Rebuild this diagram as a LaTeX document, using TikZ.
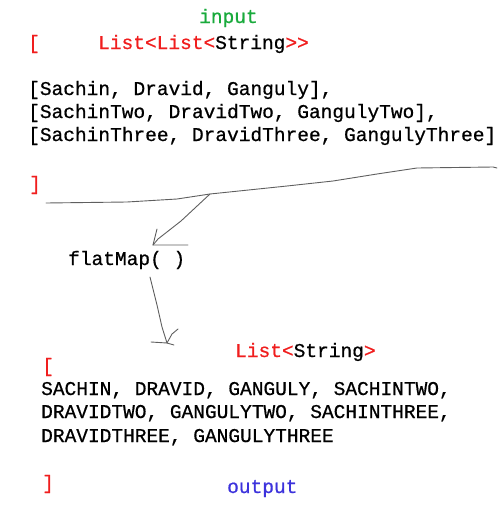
\documentclass[tikz,border=0pt]{standalone}
\usepackage{fontspec}
\setmonofont[FakeBold=0.7]{Liberation Mono}
\definecolor{kwred}{RGB}{240,30,30}
\definecolor{ingreen}{RGB}{25,170,60}
\definecolor{outblue}{RGB}{60,50,220}
\definecolor{pen}{RGB}{95,95,95}
\tikzset{
  code/.style={anchor=base west, inner sep=0pt, font=\fontsize{19.5}{23}\ttfamily},
  stroke/.style={draw=pen, line width=0.9pt, line join=round, line cap=round}
}

\begin{document}
\begin{tikzpicture}[x=1pt, y=-1pt]
        \useasboundingbox (0,0) rectangle (502,512);
        
        \node[code, text=ingreen] (in) at (199,23) {input};
        \node[code, text=kwred] (ob) at (28,49) {[};
        \node[code] (intype) at (98,49) {\textcolor{kwred}{List<List<}String\textcolor{kwred}{>>}};
        
        \node[code] (row1) at (28,95) {[Sachin, Dravid, Ganguly],};
        \node[code] (row2) at (28,118) {[SachinTwo, DravidTwo, GangulyTwo],};
        \node[code] (row3) at (28,141) {[SachinThree, DravidThree, GangulyThree]};
        \node[code, text=kwred] (cb) at (29,190) {]};
        
        \node[code] (fm) at (68,265) {flatMap( )};
        
        \node[code] (outtype) at (235,357) {\textcolor{kwred}{List<}String\textcolor{kwred}{>}};
        \node[code, text=kwred] (ob2) at (42,372) {[};
        \node[code] (res1) at (41,395) {SACHIN, DRAVID, GANGULY, SACHINTWO,};
        \node[code] (res2) at (41,418) {DRAVIDTWO, GANGULYTWO, SACHINTHREE,};
        \node[code] (res3) at (41,442) {DRAVIDTHREE, GANGULYTHREE};
        \node[code, text=kwred] (cb2) at (42,489) {]};
        \node[code, text=outblue] (out) at (227,493) {output};
        
        % hand drawn line under the input
        \coordinate (cut) at (210,194);
        \draw[stroke] (46,203) -- (127,202) -- (177,199) -- (cut) -- (287,186)
          -- (333,181) -- (377,174) -- (417,168) -- (493,167) -- (497,168);
        
        % arrow into flatMap
        \coordinate (tip1) at (153,245);
        \draw[stroke] (cut) -- (181,221) -- (158,239) -- (tip1);
        \draw[stroke] (157,229) -- (tip1) -- (188,245);
        
        % arrow out of flatMap
        \coordinate (tail2) at (150,277);
        \coordinate (tip2) at (167,343);
        \draw[stroke] (tail2) -- (157,305) -- (162,327) -- (tip2);
        \draw[stroke] (151,342) -- (tip2) -- (174,345);
        \draw[stroke] (tip2) -- (172,334) -- (178,329);
    \end{tikzpicture}
\end{document}
